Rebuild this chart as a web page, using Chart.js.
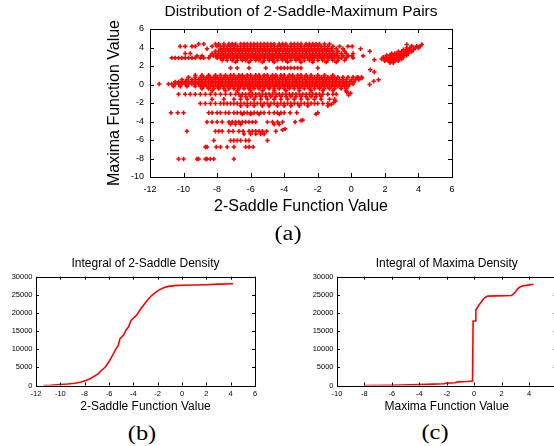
<!DOCTYPE html>
<html>
<head>
<meta charset="utf-8">
<script src="https://cdn.jsdelivr.net/npm/chart.js@4.4.1/dist/chart.umd.min.js"></script>
<style>
  html, body { margin: 0; padding: 0; background: #fff; width: 554px; height: 446px; overflow: hidden; position: relative; }
  canvas { position: absolute; display: block; }
  .cap { position: absolute; font-family: "Liberation Serif", "Times New Roman", serif; font-size: 20px; line-height: 20px; color: #000; white-space: nowrap; transform: translateX(-50%) scaleX(1.22); }
</style>
</head>
<body>
<canvas id="chartA" width="554" height="226" style="left:0;top:0"></canvas>
<canvas id="chartB" width="277" height="172" style="left:0;top:248px"></canvas>
<canvas id="chartC" width="300" height="172" style="left:277px;top:248px"></canvas>
<div class="cap" style="left:288px;top:223px">(a)</div>
<div class="cap" style="left:142px;top:423px">(b)</div>
<div class="cap" style="left:435px;top:422px">(c)</div>
<script>
// (a) scatter: [y, x, x, x ...]
const upperBandRows = [
  [4.38, -9.1, -8.8, -8.1, -7.9, -7.6, -7.3, -7.1, -6.9, -6.6, -6.4, -6.2, -6.0, -5.8, -5.6, -5.4, -5.2, -5.0, -4.8, -4.6, -4.3, -4.1, -3.9, -3.6, -3.4, -3.2, -3.0, -2.7, -2.5, -2.3, -2.1, -1.9, -1.6, -1.3],
  [4.12, -10.2, -9.9, -9.5, -9.3, -8.3, -8.0, -7.8, -7.6, -7.4, -7.2, -7.0, -6.8, -6.6, -6.4, -6.2, -6.0, -5.8, -5.6, -5.4, -5.2, -5.0, -4.8, -4.6, -4.4, -4.2, -4.0, -3.8, -3.6, -3.4, -3.2, -3.0, -2.8, -2.6, -2.4, -2.2, -2.0, -1.8, -1.6, -1.4, -1.1, -0.7, -0.2, 0.05],
  [3.86, -8.6, -7.8, -7.6, -7.4, -7.2, -7.0, -6.8, -6.6, -6.4, -6.2, -6.0, -5.8, -5.6, -5.4, -5.2, -5.0, -4.8, -4.6, -4.4, -4.2, -4.0, -3.8, -3.6, -3.4, -3.2, -3.0, -2.8, -2.6, -2.4, -2.2, -2.0, -1.8, -1.6, -1.4, -1.2, -0.9, -0.5, 0.55],
  [3.6, -8.1, -7.9, -7.7, -7.5, -7.3, -7.1, -6.9, -6.7, -6.5, -6.3, -6.1, -5.9, -5.7, -5.5, -5.3, -5.1, -4.9, -4.7, -4.5, -4.3, -4.1, -3.9, -3.7, -3.5, -3.3, -3.1, -2.9, -2.7, -2.5, -2.3, -2.1, -1.9, -1.7, -1.5, -1.3, -1.1, -0.8, -0.4, 1.1],
  [3.35, -9.9, -9.6, -8.3, -8.1, -7.9, -7.7, -7.5, -7.3, -7.1, -6.9, -6.7, -6.5, -6.3, -6.1, -5.9, -5.7, -5.5, -5.3, -5.1, -4.9, -4.7, -4.5, -4.3, -4.1, -3.9, -3.7, -3.5, -3.3, -3.1, -2.9, -2.7, -2.5, -2.3, -2.1, -1.9, -1.7, -1.5, -1.3, -1.1, -0.9, -0.6, -0.3, 0.1],
  [3.1, -9.2, -8.9, -8.4, -8.2, -8.0, -7.8, -7.6, -7.4, -7.2, -7.0, -6.8, -6.6, -6.4, -6.2, -6.0, -5.8, -5.6, -5.4, -5.2, -5.0, -4.8, -4.6, -4.4, -4.2, -4.0, -3.8, -3.6, -3.4, -3.2, -3.0, -2.8, -2.6, -2.4, -2.2, -2.0, -1.8, -1.6, -1.4, -1.2, -1.0, -0.8, -0.5, -0.2, 0.05, 0.7],
  [2.88, -10.7, -10.5, -10.3, -10.1, -9.9, -9.7, -9.5, -9.3, -9.0, -8.8, -8.5, -8.0, -7.8, -7.6, -7.4, -7.2, -7.0, -6.8, -6.6, -6.4, -6.2, -6.0, -5.8, -5.6, -5.4, -5.2, -5.0, -4.8, -4.6, -4.4, -4.2, -4.0, -3.8, -3.6, -3.4, -3.2, -3.0, -2.8, -2.6, -2.4, -2.2, -2.0, -1.8, -1.6, -1.4, -1.2, -1.0, -0.8, -0.6, -0.3, 0.1],
  [2.62, -7.7, -7.4, -7.1, -6.8, -6.5, -6.3, -6.0, -5.7, -5.5, -5.2, -4.9, -4.7, -4.4, -4.1, -3.9, -3.6, -3.3, -3.1, -2.8, -2.5, -2.3, -2.0, -1.7, -1.4, -1.1, -0.8, -0.4],
  [2.42, -6.9, -6.1, -5.3, -4.6, -3.8, -3.0, -2.3, -1.5, -0.9],
  [1.78, -7.2, -6.8, -6.1, -5.1, -4.4, -4.2, -4.0, -3.8, -3.6, -3.4, -3.2, -3.0, -2.0]
];

const middleBandRows = [
  [1.0, -9.3, -8.9, -8.5, -8.1, -7.8, -7.5, -7.2, -7.0, -6.7, -6.5, -6.2, -6.0, -5.7, -5.5, -5.2, -5.0, -4.7, -4.5, -4.2, -4.0, -3.7, -3.5, -3.2, -3.0, -2.7, -2.4, -2.0, -1.6, -1.1],
  [0.78, -9.7, -9.3, -9.0, -8.8, -8.6, -8.4, -8.2, -8.0, -7.8, -7.6, -7.4, -7.2, -7.0, -6.8, -6.6, -6.4, -6.2, -6.0, -5.8, -5.6, -5.4, -5.2, -5.0, -4.8, -4.6, -4.4, -4.2, -4.0, -3.8, -3.6, -3.4, -3.2, -3.0, -2.8, -2.6, -2.4, -2.2, -2.0, -1.8, -1.6, -1.4, -1.2, -1.0, -0.8, -0.5, -0.2, 0.1, 0.35, 0.6],
  [0.53, -10.1, -9.8, -9.5, -9.3, -9.1, -8.9, -8.7, -8.5, -8.3, -8.1, -7.9, -7.7, -7.5, -7.3, -7.1, -6.9, -6.7, -6.5, -6.3, -6.1, -5.9, -5.7, -5.5, -5.3, -5.1, -4.9, -4.7, -4.5, -4.3, -4.1, -3.9, -3.7, -3.5, -3.3, -3.1, -2.9, -2.7, -2.5, -2.3, -2.1, -1.9, -1.7, -1.5, -1.3, -1.1, -0.9, -0.7, -0.5, -0.3, 0.0, 0.25, 0.45],
  [0.28, -10.5, -10.3, -10.1, -9.9, -9.7, -9.5, -9.3, -9.1, -8.9, -8.7, -8.5, -8.3, -8.1, -7.9, -7.7, -7.5, -7.3, -7.1, -6.9, -6.7, -6.5, -6.3, -6.1, -5.9, -5.7, -5.5, -5.3, -5.1, -4.9, -4.7, -4.5, -4.3, -4.1, -3.9, -3.7, -3.5, -3.3, -3.1, -2.9, -2.7, -2.5, -2.3, -2.1, -1.9, -1.7, -1.5, -1.3, -1.1, -0.9, -0.7, -0.5, -0.3, -0.1, 0.15],
  [0.05, -11.45, -10.9, -10.7, -10.5, -10.3, -10.1, -9.9, -9.7, -9.5, -9.3, -9.1, -8.9, -8.7, -8.5, -8.3, -8.1, -7.9, -7.7, -7.5, -7.3, -7.1, -6.9, -6.7, -6.5, -6.3, -6.1, -5.9, -5.7, -5.5, -5.3, -5.1, -4.9, -4.7, -4.5, -4.3, -4.1, -3.9, -3.7, -3.5, -3.3, -3.1, -2.9, -2.7, -2.5, -2.3, -2.1, -1.9, -1.7, -1.5, -1.3, -1.1, -0.9, -0.7, -0.5, -0.3, -0.1, 0.1],
  [-0.2, -10.6, -10.2, -9.8, -9.3, -9.0, -8.8, -8.6, -8.4, -8.2, -8.0, -7.8, -7.6, -7.4, -7.2, -7.0, -6.8, -6.6, -6.4, -6.2, -6.0, -5.8, -5.6, -5.4, -5.2, -5.0, -4.8, -4.6, -4.4, -4.2, -4.0, -3.8, -3.6, -3.4, -3.2, -3.0, -2.8, -2.6, -2.4, -2.2, -2.0, -1.8, -1.6, -1.4, -1.2, -1.0, -0.8, -0.6, -0.4, -0.2],
  [-0.45, -8.9, -8.5, -8.2, -7.9, -7.6, -7.3, -7.0, -6.7, -6.4, -6.1, -5.8, -5.5, -5.2, -4.9, -4.6, -4.3, -4.0, -3.7, -3.4, -3.1, -2.8, -2.5, -2.2, -1.9, -1.6, -1.3, -1.0, -0.6, -0.3],
  [-0.68, -8.3, -7.5, -6.8, -6.0, -5.3, -4.6, -3.9, -3.1, -2.4, -1.7, -1.1, -0.3]
];

const lowerRows = [
  [-1.05, -10.3, -9.9, -9.6, -9.3, -9.0, -8.7, -8.4, -8.1, -7.8, -7.5, -7.2, -6.9, -6.7, -6.5, -6.3, -6.1, -5.9, -5.7, -5.5, -5.3, -5.1, -4.9, -4.7, -4.5, -4.3, -4.1, -3.9, -3.7, -3.5, -3.3, -3.1, -2.9, -2.7, -2.5, -2.3, -2.1, -1.9, -1.7, -1.4, -1.1, -0.9],
  [-1.3, -6.6, -6.3, -6.0, -5.7, -5.4, -5.1, -4.8, -4.5, -4.2, -3.9, -3.6, -3.3, -3.0, -2.7, -2.4, -2.1, -1.8],
  [-1.6, -8.3, -7.6, -7.0, -6.6, -6.2, -5.8, -5.4, -5.0, -4.6, -4.2, -3.8, -3.4, -3.0, -2.6, -2.2, -1.8, -1.3, -1.0],
  [-2.05, -9.0, -8.7, -8.4, -8.1, -7.8, -7.6, -7.4, -7.2, -7.0, -6.8, -6.6, -6.4, -6.2, -6.0, -5.8, -5.6, -5.4, -5.2, -5.0, -4.8, -4.6, -4.4, -4.2, -4.0, -3.8, -3.6, -3.4, -3.2, -3.0, -2.8, -2.6, -2.4, -2.2, -2.0, -1.7, -1.4],
  [-2.3, -6.6, -6.2, -5.8, -5.3, -4.9, -4.4, -4.0, -3.6, -3.1, -2.6, -1.4],
  [-3.05, -10.75, -10.35, -10.0, -8.5, -8.3, -8.0, -7.8, -7.5, -7.3, -7.0, -6.8, -6.6, -6.4, -6.2, -6.0, -5.8, -5.6, -5.4, -5.2, -4.9, -4.6, -4.4, -4.2, -4.0, -3.65, -3.25, -2.0],
  [-3.2, -6.5, -6.0, -5.5, -4.3, -2.1],
  [-4.05, -8.6, -8.3, -8.0, -7.7, -7.3, -7.1, -6.9, -6.7, -6.5, -6.3, -6.1, -5.9, -5.7, -5.0, -4.7, -4.4, -4.1, -3.35],
  [-4.3, -7.2, -6.9, -6.6, -4.6, -4.3],
  [-5.05, -9.8, -8.1, -7.9, -7.7, -7.3, -7.05, -6.7, -6.45, -6.1, -5.9, -5.7, -5.5, -5.3, -5.05, -4.5],
  [-5.35, -6.4, -6.0, -5.7, -5.4, -5.2],
  [-6.05, -8.2, -7.2, -7.0, -6.8, -6.6, -6.3, -6.1, -5.0],
  [-6.75, -8.7, -8.6, -8.05, -7.8, -7.4, -7.0, -6.3, -6.1, -5.85],
  [-8.05, -10.3, -10.0, -9.2, -9.1, -8.7, -8.6, -8.4, -8.2, -7.0]
];

const rightTailRows = [
  [2.35, 2.3, 2.5],
  [2.55, 2.0, 2.2, 2.4, 2.6, 2.8],
  [2.75, 1.8, 2.0, 2.2, 2.4, 2.6, 2.8, 3.0],
  [2.95, 1.9, 2.1, 2.3, 2.5, 2.7, 2.9, 3.1],
  [3.15, 2.1, 2.3, 2.5, 2.7, 2.9, 3.1, 3.3],
  [3.35, 2.4, 2.6, 2.8, 3.0, 3.2, 3.4],
  [3.55, 2.8, 3.0, 3.2, 3.4, 3.6],
  [3.75, 3.1, 3.3, 3.5, 3.7],
  [3.95, 3.3, 3.5, 3.8, 4.0],
  [4.15, 3.6, 3.9, 4.1],
  [4.32, 3.3, 4.2]
];

// loose points, [x, y]
const strayPoints = [
  [0.4, 0.75], [0.63, 0.7], [1.09, 0.0], [1.33, 0.35], [1.62, 0.52], [1.13, 1.6], [1.37, 1.35],
  [1.37, 2.68], [-0.27, -0.82], [-0.17, -1.13], [-0.05, -0.95], [-1.2, -2.15], [-1.05, -1.95],
  [-0.95, -1.8], [-3.0, -3.9], [-2.9, -3.85], [-4.1, -4.9], [-3.95, -4.8]
];

// (b) integral of 2-saddle density
const saddleX = [-11.4, -10.8, -10.0, -9.4, -8.8, -8.3, -7.9, -7.5, -7.2, -6.9, -6.6, -6.3, -6.0, -5.7, -5.4, -5.25, -5.1, -4.8, -4.6, -4.4, -4.2, -4.0, -3.7, -3.4, -3.1, -2.8, -2.5, -2.2, -1.9, -1.6, -1.3, -1.0, -0.6, 0.0, 1.0, 2.0, 3.0, 4.2];
const saddleCount = [0, 80, 260, 420, 640, 980, 1400, 1950, 2600, 3200, 4200, 5100, 6600, 8400, 10300, 10900, 12900, 13900, 15300, 16100, 17900, 18600, 19500, 21100, 22400, 23700, 24800, 25600, 26300, 26800, 27200, 27400, 27550, 27650, 27700, 27800, 27950, 28050];

// (c) integral of maxima density
const maximaX = [-8.0, -6.0, -4.0, -3.0, -2.2, -2.0, -1.4, -1.2, -0.5, -0.12, -0.08, 0.08, 0.12, 0.2, 0.35, 0.53, 0.7, 0.85, 1.0, 1.6, 2.3, 2.7, 2.85, 3.0, 3.15, 3.3, 3.5, 3.8, 4.0, 4.32];
const maximaCount = [0, 60, 250, 380, 480, 650, 750, 1000, 1100, 1250, 17800, 17800, 20800, 21300, 22200, 23100, 24000, 24400, 24650, 24700, 24750, 24800, 25200, 25800, 26600, 27100, 27450, 27600, 27750, 27920];

Chart.defaults.font.family = "'Liberation Sans', Arial, sans-serif";
Chart.defaults.color = '#000';
Chart.defaults.animation = false;

function rowsToPoints(rows) {
    const pts = [];
    rows.forEach(r => r.slice(1).forEach(x => pts.push({ x: x, y: r[0] })));
    return pts;
}

// gnuplot style box with ticks pointing inwards on all four sides
const framePlugin = {
    id: 'frame',
    afterDatasetsDraw(chart, args, opts) {
        const { ctx, chartArea: a, scales } = chart;
        const len = opts.tick || 4;
        ctx.save();
        ctx.strokeStyle = '#000';
        ctx.lineWidth = 1;
        ctx.beginPath();
        scales.x.ticks.forEach(t => {
            const px = Math.round(scales.x.getPixelForValue(t.value)) + 0.5;
            ctx.moveTo(px, a.bottom); ctx.lineTo(px, a.bottom - len);
            ctx.moveTo(px, a.top); ctx.lineTo(px, a.top + len);
        });
        scales.y.ticks.forEach(t => {
            const py = Math.round(scales.y.getPixelForValue(t.value)) + 0.5;
            ctx.moveTo(a.left, py); ctx.lineTo(a.left + len, py);
            ctx.moveTo(a.right, py); ctx.lineTo(a.right - len, py);
        });
        ctx.stroke();
        ctx.strokeRect(Math.round(a.left) + 0.5, Math.round(a.top) + 0.5, Math.round(a.right - a.left), Math.round(a.bottom - a.top));
        ctx.restore();
    }
};

function axis(min, max, step, tickSize, tickPad, title, titleSize, titlePad, fit) {
    return {
        type: 'linear', min: min, max: max,
        ticks: { stepSize: step, font: { size: tickSize }, padding: tickPad, color: '#000', maxRotation: 0, autoSkip: false, callback: v => String(v) },
        grid: { display: false, drawTicks: false },
        border: { display: false },
        title: { display: !!title, text: title, font: { size: titleSize }, padding: titlePad, color: '#000' },
        afterFit: fit
    };
}

// (a)
new Chart(document.getElementById('chartA').getContext('2d'), {
    type: 'scatter',
    data: {
        datasets: [{
            data: rowsToPoints(upperBandRows)
                .concat(rowsToPoints(middleBandRows))
                .concat(rowsToPoints(lowerRows))
                .concat(rowsToPoints(rightTailRows))
                .concat(strayPoints.map(p => ({ x: p[0], y: p[1] }))),
            pointStyle: 'cross',
            pointRadius: 2.2,
            borderWidth: 1.6,
            borderColor: '#ff0000',
            backgroundColor: '#ff0000'
        }]
    },
    options: {
        responsive: false,
        layout: { padding: { left: 100, right: 102, top: 0, bottom: 7 } },
        plugins: {
            legend: { display: false },
            tooltip: { enabled: false },
            title: { display: true, fullSize: false, text: 'Distribution of 2-Saddle-Maximum Pairs', font: { size: 15.5, weight: 'normal' }, padding: { top: 2.4, bottom: 8 }, color: '#000' },
            frame: { tick: 4 }
        },
        scales: {
            x: axis(-12, 6, 2, 9, 7, '2-Saddle Function Value', 16, { top: 0, bottom: 2.7 }, s => { s.height = 42; }),
            y: axis(-10, 6, 2, 9, 6, 'Maxima Function Value', 16, { top: 5.4, bottom: 0 }, s => { s.width = 50; })
        }
    },
    plugins: [framePlugin]
});

function curveChart(id, xs, ys, title, xTitle, xMin, padLeft, padRight) {
    return new Chart(document.getElementById(id).getContext('2d'), {
        type: 'line',
        data: {
            datasets: [{
                data: xs.map((x, i) => ({ x: x, y: ys[i] })),
                borderColor: '#ff0000',
                borderWidth: 1.6,
                pointRadius: 0,
                tension: 0,
                fill: false
            }]
        },
        options: {
            responsive: false,
            layout: { padding: { left: padLeft, right: padRight, top: 0, bottom: 4.5 } },
            plugins: {
                legend: { display: false },
                tooltip: { enabled: false },
                title: { display: true, fullSize: false, text: title, font: { size: 12, weight: 'normal' }, padding: { top: 8.1, bottom: 6.2 }, color: '#000' },
                frame: { tick: 3 }
            },
            scales: {
                x: axis(xMin, 6, 2, 7.5, 4, xTitle, 12, { top: 0, bottom: 1.6 }, s => { s.height = 30; }),
                y: axis(0, 30000, 5000, 7.5, 3.5, '', 12, 0, s => { s.width = 36; })
            }
        },
        plugins: [framePlugin]
    });
}

// (b) and (c)
curveChart('chartB', saddleX, saddleCount, 'Integral of 2-Saddle Density', '2-Saddle Function Value', -12, 0, 22);
curveChart('chartC', maximaX, maximaCount, 'Integral of Maxima Density', 'Maxima Function Value', -10, 24, 20.5);
</script>
</body>
</html>
